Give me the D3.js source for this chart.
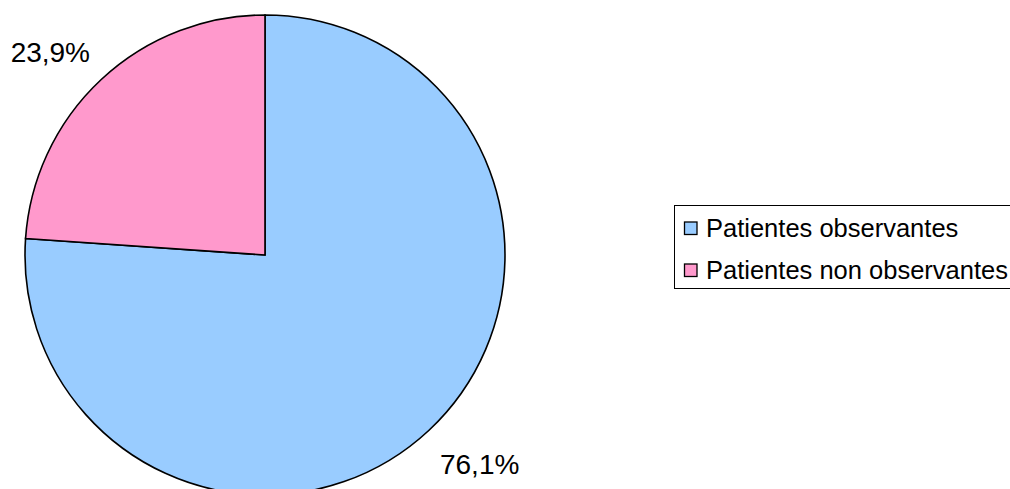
<!DOCTYPE html>
<html>
<head>
<meta charset="utf-8">
<script src="https://cdn.jsdelivr.net/npm/d3@7"></script>
<style>
  body { margin: 0; background: #fff; }
  svg { display: block; font-family: "Liberation Sans", Arial, sans-serif; }
</style>
</head>
<body>
<svg id="grafico" width="1010" height="489"></svg>
<script>
// Dados
let categorias = ["Patientes observantes", "Patientes non observantes"];
let valores = [76.1, 23.9];
let rotulos = ["76,1%", "23,9%"];
let cores = ["#99ccff", "#ff99cc"];

let svg = d3.select("#grafico");
let cx = 265, cy = 255, raio = 240;

let fnPie = d3.pie().sort(null).value((d) => d);
let fatias = fnPie(valores);
let fnArco = d3.arc().innerRadius(0).outerRadius(raio);
let fnRotulo = d3.arc().innerRadius(255).outerRadius(255);

let g = svg.append("g").attr("transform", `translate(${cx},${cy})`);

g.selectAll(".fatia")
  .data(fatias)
  .enter()
  .append("path")
  .classed("fatia", true)
  .attr("d", fnArco)
  .attr("fill", (d, i) => cores[i])
  .attr("stroke", "#000")
  .attr("stroke-width", 1.6)
  .attr("stroke-linejoin", "miter");

// Rótulos
g.selectAll(".rotulo")
  .data(fatias)
  .enter()
  .append("text")
  .classed("rotulo", true)
  .text((d, i) => rotulos[i])
  .attr("font-size", 28)
  .attr("fill", "#000")
  .each(function (d) {
    let [x, y] = fnRotulo.centroid(d);
    let direita = x >= 0;
    let baixo = y >= 0;
    d3.select(this)
      .attr("text-anchor", direita ? "start" : "end")
      .attr("x", direita ? x + 1 : x - 1)
      .attr("y", baixo ? y + 33 : y - 7);
  });

// Legenda
let leg = svg.append("g").attr("transform", "translate(674,205)");
leg.append("rect")
  .attr("x", 0.5)
  .attr("y", 0.5)
  .attr("width", 345)
  .attr("height", 83)
  .attr("fill", "#fff")
  .attr("stroke", "#000")
  .attr("stroke-width", 1);

let fnYLeg = d3.scaleBand().domain(categorias).range([2, 86]).paddingOuter(0);

let itens = leg.selectAll(".item")
  .data(categorias)
  .enter()
  .append("g")
  .classed("item", true)
  .attr("transform", (d) => `translate(0,${fnYLeg(d) + fnYLeg.bandwidth() / 2})`);

itens.append("rect")
  .attr("x", 10.5)
  .attr("y", -6)
  .attr("width", 12.5)
  .attr("height", 12.5)
  .attr("fill", (d, i) => cores[i])
  .attr("stroke", "#000")
  .attr("stroke-width", 1.3);

itens.append("text")
  .attr("x", 32)
  .attr("y", 8.5)
  .attr("font-size", 25.5)
  .attr("fill", "#000")
  .text((d) => d);
</script>
</body>
</html>
